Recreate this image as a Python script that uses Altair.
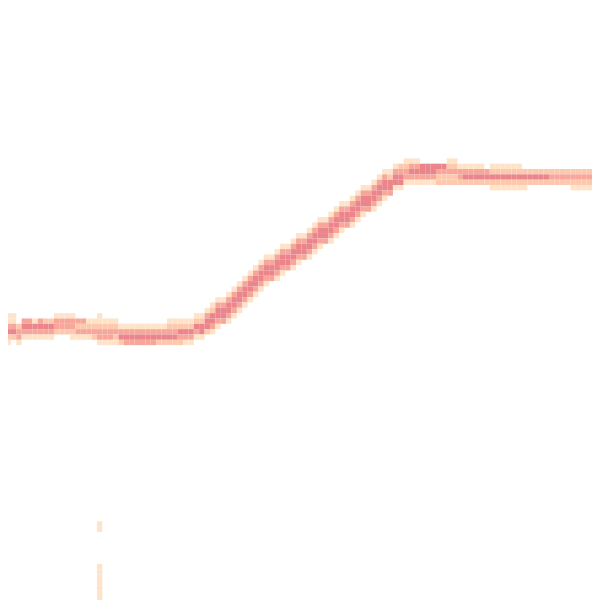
import altair as alt
import pandas as pd

# Density heatmap of a single trace.
# Each column of the grid: first row (counted from the top) and the levels of
# the cells going downwards (1 = faint ... 4 = strongest).
COL_START = [
    58, 57, 57, 59, 58, 58, 58, 58, 58, 58,   # 0-9
    57, 57, 57, 57, 58, 58, 58, 58, 57, 58,   # 10-19
    58, 58, 59, 59, 59, 59, 59, 59, 59, 59,   # 20-29
    59, 58, 58, 58, 58, 58, 57, 57, 56, 55,   # 30-39
    54, 54, 53, 52, 51, 50, 49, 48, 47, 46,   # 40-49
    46, 45, 44, 44, 43, 42, 42, 41, 40, 39,   # 50-59
    39, 38, 37, 36, 36, 35, 34, 33, 33, 32,   # 60-69
    31, 30, 30, 29, 29, 28, 28, 28, 29, 29,   # 70-79
    29, 29, 29, 28, 28, 29, 29, 29, 29, 29,   # 80-89
    30, 29, 29, 29, 29, 29, 29, 30, 30, 30,   # 90-99
    30, 30, 30, 30, 30, 30, 30, 30, 30, 30,   # 100-109
]
COL_LEVELS = [
    "1342", "113421", "11342", "2331", "3431", "3431", "1431", "3431", "2431", "2431",
    "1332", "1332", "1332", "13321", "3231", "3231", "1231", "1232", "112331", "12331",
    "12331", "12321", "1342", "1343", "1343", "1343", "1343", "1343", "1343", "1342",
    "1342", "12342", "12342", "12432", "12431", "12431", "12431", "12441", "13442", "124431",
    "134431", "13443", "134431", "134431", "134431", "134431", "134431", "134431", "134431", "134431",
    "13443", "134431", "134431", "13443", "134431", "134431", "13443", "134431", "134431", "134431",
    "13443", "134431", "134431", "134431", "13443", "134431", "134431", "134431", "13443", "134431",
    "134431", "134431", "12443", "13441", "23441", "12331", "13431", "13431", "4431", "4431",
    "4431", "4322", "4322", "12322", "12322", "1332", "1342", "1342", "1342", "1342",
    "342", "12421", "12421", "12421", "12421", "12421", "12421", "2421", "242", "242",
    "242", "242", "232", "232", "232", "232", "2321", "2321", "2321", "2321",
]
# the short vertical stroke near the bottom
TICK_COL = 18
TICK_ROWS = [96, 97, 104, 105, 106, 107, 108, 109, 110]
TICK_LEVELS = [1, 1, 1, 1, 1, 1, 1, 1, 1]

LEVEL_DOMAIN = [1, 2, 3, 4]
LEVEL_COLORS = ["#fee3c9", "#fdc9ae", "#f6a69a", "#e9858b"]

records = []
for c, (start, levels) in enumerate(zip(COL_START, COL_LEVELS)):
    for k, ch in enumerate(levels):
        records.append({"c": c, "r": start + k, "level": int(ch)})
for r, lv in zip(TICK_ROWS, TICK_LEVELS):
    records.append({"c": TICK_COL, "r": r, "level": lv})
df = pd.DataFrame(records)

chart = (
    alt.Chart(df)
    .transform_calculate(c2="datum.c + 1", r2="datum.r + 1")
    .mark_rect()
    .encode(
        x=alt.X("c:Q", axis=None,
                scale=alt.Scale(domain=[1.4667, 110], nice=False, zero=False)),
        x2="c2:Q",
        y=alt.Y("r:Q", axis=None,
                scale=alt.Scale(domain=[0.5767, 110.006], nice=False, zero=False, reverse=True)),
        y2="r2:Q",
        color=alt.Color("level:O", legend=None,
                        scale=alt.Scale(domain=LEVEL_DOMAIN, range=LEVEL_COLORS)),
    )
    .properties(width=592, height=592, autosize=alt.AutoSizeParams(type="none"), padding=0)
    .configure_view(strokeWidth=0)
)

chart.save("out.html", embed_options={"renderer": "svg", "actions": False})
